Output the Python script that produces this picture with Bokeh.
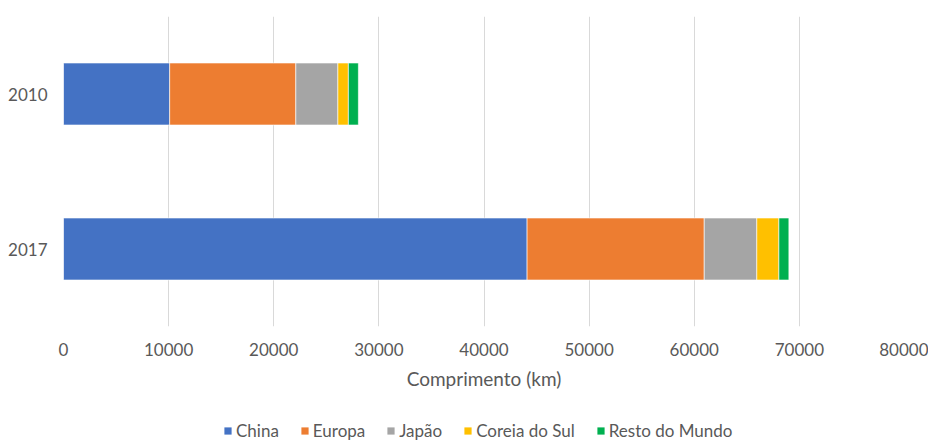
from bokeh.plotting import figure
from bokeh.layouts import column
from bokeh.models import (ColumnDataSource, FactorRange, Range1d, FixedTicker,
                          NumeralTickFormatter, Legend, LegendItem)
from bokeh.embed import file_html
from bokeh.resources import INLINE

years = ["2010", "2017"]
series = ["China", "Europa", "Japão", "Coreia do Sul", "Resto do Mundo"]
china = [10100, 44100]
europa = [12000, 16850]
japao = [4000, 5000]
coreia = [1000, 2100]
resto = [950, 950]
colors = ["#4472C4", "#ED7D31", "#A5A5A5", "#FFC000", "#00B050"]
x_ticks = [0, 10000, 20000, 30000, 40000, 50000, 60000, 70000, 80000]

keys = ["china", "europa", "japao", "coreia", "resto"]
source = ColumnDataSource(dict(year=years, china=china, europa=europa,
                               japao=japao, coreia=coreia, resto=resto))

FONT = "Lato"
TXT = "#595959"

# ---------------- main chart ----------------
p = figure(width=928, height=410, output_backend="svg", toolbar_location=None,
           y_range=FactorRange(factors=["2017", "2010"]),
           x_range=Range1d(0, 80000))
p.min_border_left = 63
p.min_border_right = 24
p.min_border_top = 16
p.min_border_bottom = 84
p.outline_line_color = None
p.background_fill_color = "white"
p.border_fill_color = "white"

rs = p.hbar_stack(keys, y="year", height=0.4, color=colors, source=source,
                  line_color="white", line_width=0.6)

p.ygrid.grid_line_color = None
p.xgrid.grid_line_color = "#D9D9D9"
p.xgrid.grid_line_width = 1
p.xaxis.ticker = FixedTicker(ticks=x_ticks)
p.xaxis.formatter = NumeralTickFormatter(format="0")

for ax in (p.xaxis[0], p.yaxis[0]):
    ax.axis_line_color = None
    ax.major_tick_line_color = None
    ax.minor_tick_line_color = None
    ax.major_tick_out = 0
    ax.major_tick_in = 0
    ax.major_label_text_font = FONT
    ax.major_label_text_font_size = "17px"
    ax.major_label_text_color = TXT

p.xaxis.major_label_standoff = 16
p.yaxis.major_label_standoff = 16
p.xaxis.axis_label = "Comprimento (km)"
p.xaxis.axis_label_text_font = FONT
p.xaxis.axis_label_text_font_size = "19px"
p.xaxis.axis_label_text_font_style = "normal"
p.xaxis.axis_label_text_color = TXT
p.xaxis.axis_label_standoff = 8

# ---------------- legend strip ----------------
# zero-height copies of the stacked bars, outside the strip's range: only their legend shows
lf = figure(width=928, height=31, output_backend="svg", toolbar_location=None,
            x_axis_type=None, y_axis_type=None,
            x_range=Range1d(-2, -1), y_range=FactorRange(factors=["2017", "2010"]))
lf.min_border_left = 63
lf.min_border_right = 24
lf.min_border_top = 0
lf.min_border_bottom = 0
lf.outline_line_color = None
lf.grid.visible = False
lf.border_fill_color = "white"
lf.background_fill_color = "white"

rs2 = lf.hbar_stack(keys, y="year", height=0.0, fill_color=colors, source=source,
                    line_color=None)
items = [LegendItem(label=s, renderers=[r]) for s, r in zip(series, rs2)]

lg = Legend(items=items)
lg.orientation = "horizontal"
lg.location = (160, 0)
lg.border_line_color = None
lg.background_fill_alpha = 0
lg.padding = 0
lg.margin = 0
lg.spacing = 21
lg.glyph_width = 9
lg.glyph_height = 9
lg.label_height = 18
lg.label_standoff = 4
lg.label_text_font = FONT
lg.label_text_font_size = "17px"
lg.label_text_color = TXT
lf.add_layout(lg, "center")

layout = column(p, lf, spacing=0)
open("out.html", "w").write(file_html(layout, INLINE))
